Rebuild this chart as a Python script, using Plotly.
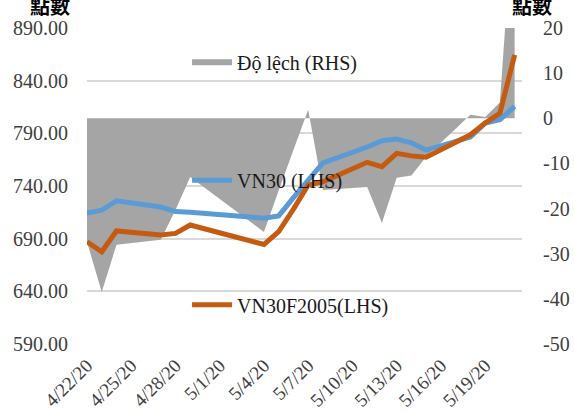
import plotly.graph_objects as go

dates = ["2020-04-22", "2020-04-23", "2020-04-24", "2020-04-27", "2020-04-28",
         "2020-04-29", "2020-05-04", "2020-05-05", "2020-05-06", "2020-05-07",
         "2020-05-08", "2020-05-11", "2020-05-12", "2020-05-13", "2020-05-14",
         "2020-05-15", "2020-05-18", "2020-05-19", "2020-05-20", "2020-05-21"]

vn30 = [714.4, 717.0, 726.0, 720.0, 715.7, 715.0, 709.4, 711.6, 729.0, 745.6,
        762.0, 777.0, 783.0, 784.5, 781.0, 774.0, 786.4, 799.7, 803.0, 815.5]

vn30f2005 = [687.0, 677.6, 697.3, 693.5, 695.0, 703.0, 684.5, 696.7, 718.0, 741.0,
             744.0, 762.5, 758.4, 771.0, 768.6, 767.4, 788.6, 799.7, 809.0, 864.4]

do_lech = [-27.4, -38.5, -28.0, -26.9, -20.3, -13.0, -25.2, -16.0, -7.0, 1.9,
           -15.9, -15.2, -23.2, -13.2, -12.7, -8.5, 0.8, 0.3, 3.5, 50.0]

left_ticks = [590, 640, 690, 740, 790, 840, 890]
right_ticks = [-50, -40, -30, -20, -10, 0, 10, 20]

SERIF = "Liberation Serif, Times New Roman, serif"
TXT = "#404040"

fig = go.Figure()

fig.add_trace(go.Scatter(
    x=dates, y=do_lech, name="Độ lệch (RHS)", mode="none",
    fill="tozeroy", fillcolor="#A5A5A5", yaxis="y", legend="legend",
    showlegend=True,
))
fig.add_trace(go.Scatter(
    x=dates, y=vn30, name="VN30 (LHS)", mode="lines",
    line=dict(color="#5B9BD5", width=5), yaxis="y2", legend="legend2",
    showlegend=True,
))
fig.add_trace(go.Scatter(
    x=dates, y=vn30f2005, name="VN30F2005(LHS)", mode="lines",
    line=dict(color="#C55A11", width=5), yaxis="y2", legend="legend3",
    showlegend=True,
))

legend_common = dict(
    bgcolor="rgba(0,0,0,0)", borderwidth=0,
    font=dict(family=SERIF, size=20, color="#1a1a1a"),
    xanchor="left", yanchor="middle", itemwidth=40,
)

fig.update_layout(
    width=574, height=413,
    showlegend=True,
    margin=dict(l=87, r=52, t=28, b=69),
    paper_bgcolor="white", plot_bgcolor="white",
    font=dict(family=SERIF, size=20, color=TXT),
    xaxis=dict(
        type="date", automargin=False,
        range=["2020-04-22", "2020-05-21 12:00"],
        tick0="2020-04-22", dtick=3 * 86400000,
        tickformat="%-m/%-d/%y", tickangle=-45,
        tickfont=dict(family=SERIF, size=19, color=TXT),
        showgrid=False, zeroline=False, showline=False,
        ticks="outside", ticklen=0, ticklabelstandoff=2,
    ),
    yaxis=dict(
        side="right", range=[-50, 20], automargin=False,
        tickvals=right_ticks, ticktext=[str(v) for v in right_ticks],
        showgrid=False, zeroline=False, showline=False,
        ticks="outside", ticklen=0, ticklabelstandoff=16,
        tickfont=dict(family=SERIF, size=20, color=TXT),
    ),
    yaxis2=dict(
        side="left", overlaying="y", range=[590, 890], automargin=False,
        tickvals=left_ticks, ticktext=[f"{v:.2f}" for v in left_ticks],
        showgrid=True, gridcolor="#D9D9D9", gridwidth=1.5,
        zeroline=False, showline=False,
        ticks="outside", ticklen=0, ticklabelstandoff=14,
        tickfont=dict(family=SERIF, size=20, color=TXT),
    ),
    legend=dict(legend_common, x=0.23, y=0.892),
    legend2=dict(legend_common, x=0.23, y=0.518),
    legend3=dict(legend_common, x=0.23, y=0.124),
    annotations=[
        dict(text="<b>點數</b>", xref="paper", yref="paper", x=-0.034, y=1.07,
             xanchor="right", yanchor="middle", showarrow=False,
             font=dict(family="Noto Sans CJK TC", size=20, color="#000000")),
        dict(text="<b>點數</b>", xref="paper", yref="paper", x=0.972, y=1.07,
             xanchor="left", yanchor="middle", showarrow=False,
             font=dict(family="Noto Sans CJK TC", size=20, color="#000000")),
    ],
)

fig.write_html("out.html", config={"displayModeBar": False},
               post_script="document.body.style.margin='0';")
